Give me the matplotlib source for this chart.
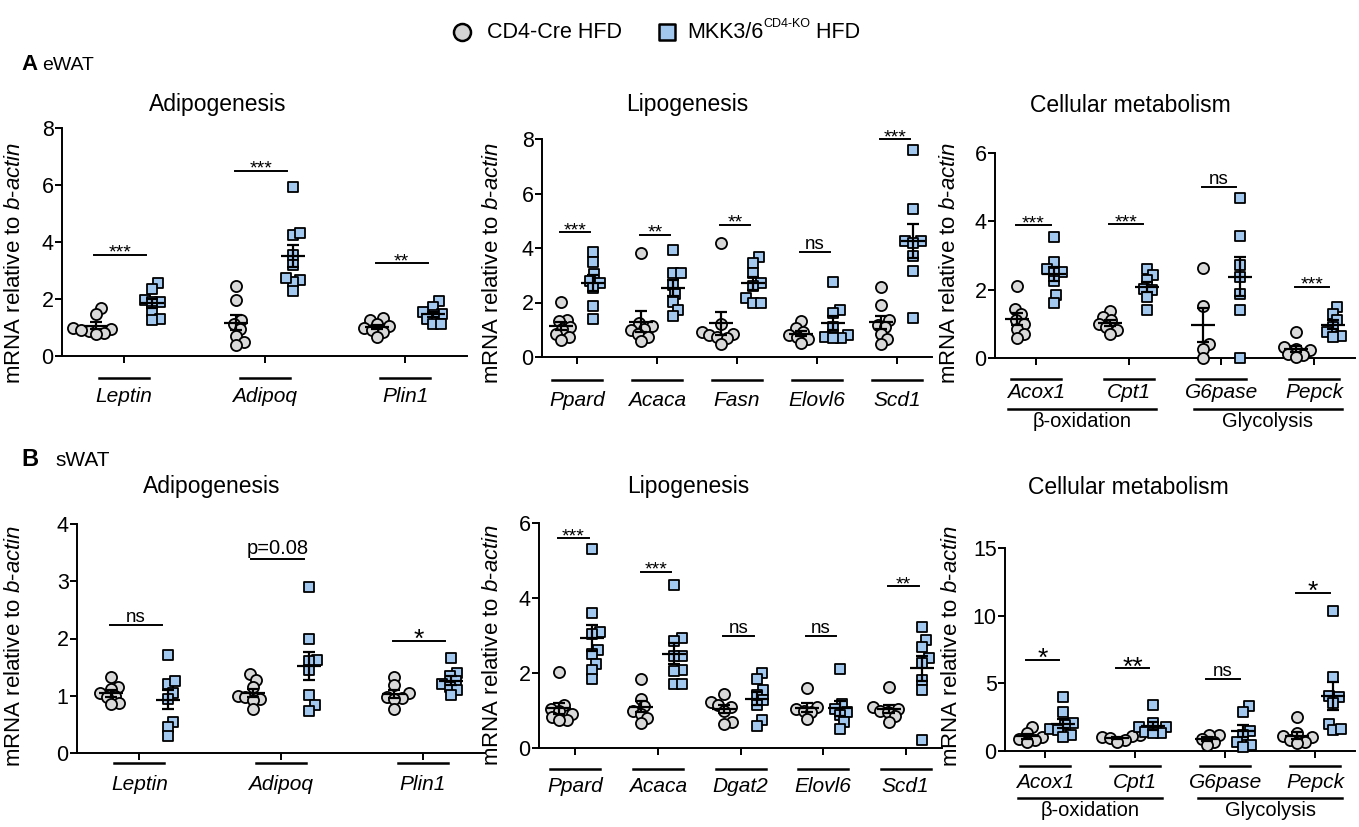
import numpy as np
import matplotlib
matplotlib.use('Agg')
import matplotlib.pyplot as plt
from matplotlib.transforms import blended_transform_factory

plt.rcParams['font.family'] = ['Liberation Sans', 'DejaVu Sans']
plt.rcParams['mathtext.fontset'] = 'custom'
plt.rcParams['mathtext.rm'] = 'Liberation Sans'
plt.rcParams['mathtext.it'] = 'Liberation Sans:italic'

# ---------------- data ----------------
# A  eWAT
ewat_adipo_genes = ['Leptin', 'Adipoq', 'Plin1']
ewat_adipo_ctrl = [[1.68, 1.48, 1.0, 0.95, 0.88, 0.82, 0.76, 0.9],
                   [2.46, 1.96, 1.28, 1.14, 0.94, 0.69, 0.49, 0.4],
                   [1.32, 1.26, 1.14, 1.05, 0.98, 0.9, 0.85, 0.68]]
ewat_adipo_ko = [[2.55, 2.35, 1.98, 1.9, 1.88, 1.57, 1.3, 1.27],
                 [5.92, 4.25, 4.3, 3.55, 3.2, 2.65, 2.6, 2.75, 2.29],
                 [1.92, 1.72, 1.55, 1.49, 1.43, 1.31, 1.14, 1.14]]
ewat_adipo_sig = ['***', '***', '**']
ewat_adipo_sig_y = [3.55, 6.5, 3.25]

ewat_lipo_genes = ['Ppard', 'Acaca', 'Fasn', 'Elovl6', 'Scd1']
ewat_lipo_ctrl = [[2.02, 1.37, 1.31, 1.1, 1.04, 0.86, 0.74, 0.64],
                  [3.83, 1.25, 1.13, 1.04, 0.98, 0.86, 0.74, 0.59],
                  [4.2, 1.2, 0.92, 0.85, 0.8, 0.75, 0.7, 0.49],
                  [1.32, 1.05, 0.92, 0.8, 0.75, 0.66, 0.5],
                  [2.56, 1.9, 1.37, 1.19, 1.1, 0.86, 0.67, 0.49]]
ewat_lipo_ko = [[3.87, 3.5, 3.05, 2.8, 2.7, 2.53, 1.88, 1.41],
                [3.91, 3.09, 3.09, 2.66, 2.3, 2.02, 1.72, 1.5],
                [3.67, 3.46, 3.09, 2.7, 2.6, 2.15, 1.99, 1.99],
                [2.76, 1.72, 1.6, 1.1, 0.8, 0.74, 0.7, 0.68],
                [7.61, 5.43, 4.24, 4.24, 4.17, 3.69, 3.16, 1.44]]
ewat_lipo_sig = ['***', '**', '**', 'ns', '***']
ewat_lipo_sig_y = [4.57, 4.48, 4.85, 3.84, 8.0]

ewat_met_genes = ['Acox1', 'Cpt1', 'G6pase', 'Pepck']
ewat_met_ctrl = [[2.12, 1.43, 1.29, 1.1, 1.0, 0.86, 0.71, 0.59],
                 [1.37, 1.2, 1.1, 1.0, 0.91, 0.81, 0.71],
                 [2.64, 1.51, 0.42, 0.27, 0.0],
                 [0.76, 0.32, 0.27, 0.22, 0.12, 0.08, 0.03]]
ewat_met_ko = [[3.54, 2.81, 2.6, 2.53, 2.5, 2.26, 1.85, 1.62],
               [2.61, 2.42, 2.27, 2.03, 1.98, 1.79, 1.4],
               [4.69, 3.58, 2.71, 2.37, 1.88, 1.4, 0.0],
               [1.5, 1.3, 1.1, 0.9, 0.75, 0.65, 0.6]]
ewat_met_sig = ['***', '***', 'ns', '***']
ewat_met_sig_y = [3.88, 3.91, 5.0, 2.08]

# B  sWAT
swat_adipo_genes = ['Leptin', 'Adipoq', 'Plin1']
swat_adipo_ctrl = [[1.33, 1.16, 1.12, 1.04, 1.0, 0.97, 0.87, 0.85],
                   [1.38, 1.28, 1.15, 1.0, 0.98, 0.95, 0.92, 0.76],
                   [1.33, 1.19, 1.04, 0.98, 0.96, 0.94, 0.76]]
swat_adipo_ko = [[1.72, 1.2, 1.25, 1.05, 0.95, 0.55, 0.45, 0.3],
                 [2.9, 1.99, 1.62, 1.6, 1.45, 1.02, 0.83, 0.73],
                 [1.66, 1.4, 1.34, 1.25, 1.2, 1.16, 1.1, 1.01]]
swat_adipo_sig = ['ns', 'p=0.08', '*']
swat_adipo_sig_y = [2.23, 3.38, 1.96]

swat_lipo_genes = ['Ppard', 'Acaca', 'Dgat2', 'Elovl6', 'Scd1']
swat_lipo_ctrl = [[2.03, 1.16, 1.05, 0.99, 0.92, 0.83, 0.76, 0.74],
                  [1.85, 1.32, 1.11, 1.0, 0.92, 0.81, 0.67],
                  [1.43, 1.23, 1.15, 1.1, 1.0, 0.69, 0.65],
                  [1.6, 1.1, 1.05, 1.0, 0.95, 0.78],
                  [1.62, 1.1, 1.05, 1.0, 0.95, 0.85, 0.7]]
swat_lipo_ko = [[5.32, 3.6, 3.09, 3.05, 2.62, 2.5, 2.25, 2.07, 1.85],
                [4.36, 2.94, 2.85, 2.46, 2.46, 2.09, 2.05, 1.72, 1.72],
                [2.01, 1.84, 1.54, 1.41, 1.27, 1.14, 0.74, 0.58],
                [2.12, 1.18, 1.05, 0.96, 0.87, 0.69, 0.52],
                [3.23, 2.88, 2.69, 2.4, 2.27, 1.81, 1.55, 0.21]]
swat_lipo_sig = ['***', '***', 'ns', 'ns', '**']
swat_lipo_sig_y = [5.6, 4.7, 2.99, 2.99, 4.32]

swat_met_genes = ['Acox1', 'Cpt1', 'G6pase', 'Pepck']
swat_met_ctrl = [[1.75, 1.3, 1.0, 0.9, 0.8, 0.7],
                 [1.2, 1.1, 1.0, 0.95, 0.8, 0.7],
                 [1.2, 1.15, 0.9, 0.7, 0.45],
                 [2.5, 1.3, 1.1, 1.0, 0.8, 0.7, 0.6]]
swat_met_ko = [[4.0, 2.9, 2.05, 1.9, 1.6, 1.55, 1.15, 1.05],
               [3.4, 2.05, 1.8, 1.75, 1.4, 1.3, 1.3],
               [3.3, 2.9, 1.5, 1.2, 0.7, 0.45, 0.3],
               [10.38, 5.49, 4.0, 4.05, 3.56, 2.03, 1.53, 1.66]]
swat_met_sig = ['*', '**', 'ns', '*']
swat_met_sig_y = [6.72, 6.1, 5.29, 11.7]

met_groups = ['\u03b2-oxidation', 'Glycolysis']
met_group_span = [(0, 1), (2, 3)]

CTRL_FC = '#d9d9d9'
KO_FC = '#a3c8f0'

W, H = 1359, 827
fig = plt.figure(figsize=(W / 100, H / 100), dpi=100)
bg = fig.add_axes([0, 0, 1, 1])
bg.set_xlim(0, W)
bg.set_ylim(H, 0)
bg.axis('off')


def swarm(vals, center, ppx, ppy, d=8.0):
    vals = np.asarray(vals, float)
    placed = []
    xs = np.zeros(len(vals))
    for i in np.argsort(vals):
        y = vals[i] * ppy
        cands = [0.0]
        for px, py in placed:
            dy = y - py
            if abs(dy) < d:
                dx = np.sqrt(d * d - dy * dy)
                cands += [px + dx, px - dx]
        cands.sort(key=abs)
        for c in cands:
            if all((c - px) ** 2 + (y - py) ** 2 >= d * d - 1e-6 for px, py in placed):
                break
        placed.append((c, y))
        xs[i] = center + c / ppx
    return xs


def panel(box, ylim, yticks, genes, ctrl, ko, sig, sig_y, lab_xy, ul_off, lab_off,
          starsize=14, groups=None):
    l, r, t, b = box
    ax = fig.add_axes([l / W, 1 - b / H, (r - l) / W, (b - t) / H])
    n = len(genes)
    xr = (-0.44, n - 1 + 0.44)
    ax.set_xlim(*xr)
    ax.set_ylim(*ylim)
    ppx = (r - l) / (xr[1] - xr[0])
    ppy = (b - t) / (ylim[1] - ylim[0])
    for sp in ['top', 'right']:
        ax.spines[sp].set_visible(False)
    for sp in ['left', 'bottom']:
        ax.spines[sp].set_linewidth(1.4)
    ax.set_yticks(yticks)
    ax.set_xticks(range(n))
    ax.set_xticklabels([])
    ax.tick_params(axis='y', labelsize=15.5, width=1.4, length=5, pad=1)
    ax.tick_params(axis='x', width=1.4, length=5)
    ax.set_ylabel('mRNA relative to $\\mathit{b}$-$\\mathit{actin}$', fontsize=16)
    ax.yaxis.set_label_coords((lab_xy[0] - l) / (r - l), (b - lab_xy[1]) / (b - t))

    for i in range(n):
        for vals, off, mk, fc, ms in [(ctrl[i], -0.2, 'o', CTRL_FC, 64),
                                      (ko[i], 0.2, 's', KO_FC, 49)]:
            c = i + off
            xs = swarm(vals, c, ppx, ppy)
            ax.scatter(xs, vals, s=ms, marker=mk, facecolor=fc, edgecolor='k',
                       linewidth=1.3, zorder=3, clip_on=False)
            m = np.mean(vals)
            se = np.std(vals, ddof=1) / np.sqrt(len(vals))
            mh, ch = 12 / ppx, 6 / ppx
            kw = dict(color='k', lw=1.6, zorder=5, clip_on=False, solid_capstyle='butt')
            ax.plot([c - mh, c + mh], [m, m], **kw)
            ax.plot([c, c], [m - se, m + se], **kw)
            ax.plot([c - ch, c + ch], [m - se, m - se], **kw)
            ax.plot([c - ch, c + ch], [m + se, m + se], **kw)

        # significance
        ax.plot([i - 0.21, i + 0.16], [sig_y[i], sig_y[i]], color='k', lw=1.4, clip_on=False)
        s = sig[i]
        if s == 'ns':
            fs, dy = 13.5, 3
        elif s.startswith('p'):
            fs, dy = 14.5, 5
        elif s == '*' or starsize > 15:
            fs, dy = 19, -6
        else:
            fs, dy = starsize, -3
        ax.annotate(s, (i - 0.025, sig_y[i]), xytext=(0, dy), textcoords='offset pixels',
                    ha='center', va='baseline', fontsize=fs, annotation_clip=False)

        # gene label with underline
        tr = blended_transform_factory(ax.transData, ax.transAxes)
        yl = -ul_off / (b - t)
        ax.plot([i - 25 / ppx, i + 25 / ppx], [yl, yl], color='k', lw=1.8,
                transform=tr, clip_on=False)
        ax.text(i, -lab_off / (b - t), genes[i], transform=tr, ha='center', va='center',
                fontsize=15, style='italic')

    if groups is not None:
        tr = blended_transform_factory(ax.transData, ax.transAxes)
        for name, (i0, i1) in zip(groups, met_group_span):
            yl = -(lab_off + 16) / (b - t)
            ax.plot([i0 - 0.3, i1 + 0.3], [yl, yl], color='k', lw=1.8, transform=tr,
                    clip_on=False)
            ax.text((i0 + i1) / 2, -(lab_off + 29) / (b - t), name, transform=tr,
                    ha='center', va='center', fontsize=14.5)
    return ax


# row A
panel((62, 467, 128, 356), (0, 8), [0, 2, 4, 6, 8], ewat_adipo_genes, ewat_adipo_ctrl,
      ewat_adipo_ko, ewat_adipo_sig, ewat_adipo_sig_y, (25, 263), 22, 40)
panel((542, 932, 139, 357), (0, 8), [0, 2, 4, 6, 8], ewat_lipo_genes, ewat_lipo_ctrl,
      ewat_lipo_ko, ewat_lipo_sig, ewat_lipo_sig_y, (503, 263), 23, 43)
panel((995, 1355, 153, 358), (0, 6), [0, 2, 4, 6], ewat_met_genes, ewat_met_ctrl,
      ewat_met_ko, ewat_met_sig, ewat_met_sig_y, (960, 263), 21, 35, groups=met_groups)

# row B
panel((77, 485, 524, 753), (0, 4), [0, 1, 2, 3, 4], swat_adipo_genes, swat_adipo_ctrl,
      swat_adipo_ko, swat_adipo_sig, swat_adipo_sig_y, (25, 646), 10, 32)
panel((539, 942, 523, 748), (0, 6), [0, 2, 4, 6], swat_lipo_genes, swat_lipo_ctrl,
      swat_lipo_ko, swat_lipo_sig, swat_lipo_sig_y, (503, 645), 21, 38)
panel((1005, 1355, 548, 751), (0, 15), [0, 5, 10, 15], swat_met_genes, swat_met_ctrl,
      swat_met_ko, swat_met_sig, swat_met_sig_y, (962, 646), 15, 31, starsize=19,
      groups=met_groups)

# titles and panel letters
for x, y, s in [(218, 105, 'Adipogenesis'), (687, 105, 'Lipogenesis'),
                (1130, 105, 'Cellular metabolism'), (212, 487, 'Adipogenesis'),
                (688, 487, 'Lipogenesis'), (1128, 487, 'Cellular metabolism')]:
    bg.text(x, y, s, ha='center', va='center', fontsize=16.5)
bg.text(21, 65, 'A', ha='left', va='center', fontsize=16, fontweight='bold')
bg.text(42, 65, 'eWAT', ha='left', va='center', fontsize=14)
bg.text(21, 460, 'B', ha='left', va='center', fontsize=17, fontweight='bold')
bg.text(55, 460, 'sWAT', ha='left', va='center', fontsize=15)

# legend
bg.scatter([462], [32], s=150, marker='o', facecolor='#d3d3d3', edgecolor='k', linewidth=1.8)
bg.text(487, 33, 'CD4-Cre HFD', ha='left', va='center', fontsize=15.5)
bg.scatter([667], [32], s=130, marker='s', facecolor=KO_FC, edgecolor='k', linewidth=1.8)
t1 = bg.text(687, 33, 'MKK3/6', ha='left', va='center', fontsize=15.5)
t2 = bg.annotate('CD4-KO', xy=(1.0, 0.62), xycoords=t1, ha='left', va='bottom', fontsize=9)
bg.annotate(' HFD', xy=(1.0, 0.0), xycoords=(t2, t1), ha='left', va='bottom', fontsize=15.5)

fig.savefig('out.png', dpi=100)
